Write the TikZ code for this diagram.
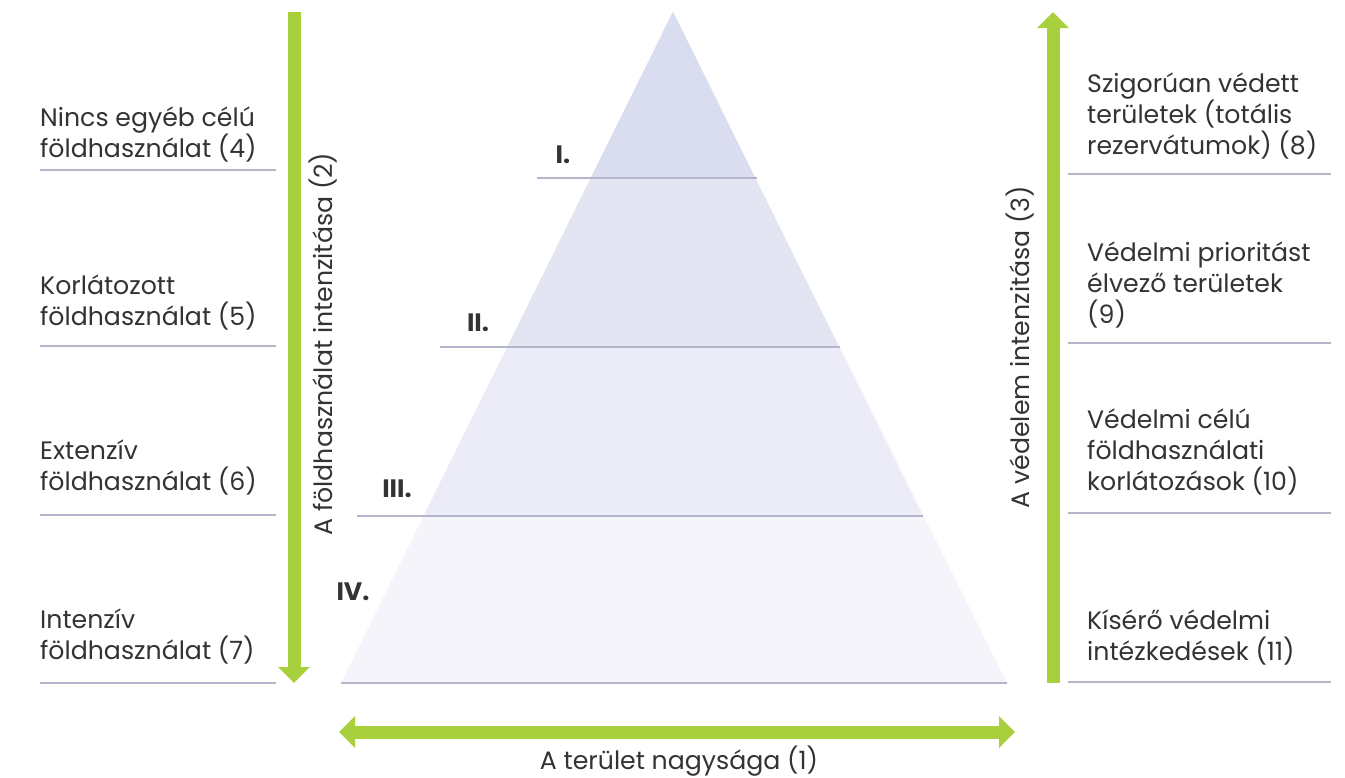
\documentclass[tikz,border=0pt]{standalone}
\usepackage{fontspec}
\setmainfont{Poppins}[Numbers=Proportional]
\usetikzlibrary{arrows.meta}
\definecolor{grn}{HTML}{A8CF3C}
\definecolor{bandA}{HTML}{DADCEF}
\definecolor{bandB}{HTML}{E3E5F3}
\definecolor{bandC}{HTML}{EBECF7}
\definecolor{bandD}{HTML}{F4F4FA}
\definecolor{rule}{HTML}{B3B5CA}
\definecolor{txt}{HTML}{333333}
\tikzset{
  lbl/.style={anchor=west,align=left,inner sep=0pt,text=txt,font=\fontsize{25.2}{31}\selectfont},
  rom/.style={anchor=base,inner sep=0pt,text=txt,font=\fontsize{25.2}{31}\selectfont\bfseries},
  axl/.style={inner sep=0pt,text=txt,font=\fontsize{25.2}{31}\selectfont},
  rl/.style={draw=rule,line width=2pt},
  garrow/.style={draw=grn,line width=13pt,-{Triangle[length=16pt,width=31pt]}},
  gdarrow/.style={draw=grn,line width=13pt,{Triangle[length=16pt,width=31pt]}-{Triangle[length=16pt,width=31pt]}},
}
\begin{document}
\begin{tikzpicture}[x=1pt,y=-1pt]
\useasboundingbox (0,0) rectangle (1345,777);
% pyramid bands
\fill[bandD] (673,12) -- (341,683) -- (1007,683) -- cycle;
\fill[bandC] (673,12) -- (423.6,516) -- (922.4,516) -- cycle;
\fill[bandB] (673,12) -- (507.2,347) -- (838.8,347) -- cycle;
\fill[bandA] (673,12) -- (590.9,178) -- (755.1,178) -- cycle;
% pyramid rules
\draw[rl] (537,178) -- (757,178);
\draw[rl] (440,347) -- (840,347);
\draw[rl] (357,516) -- (923,516);
\draw[rl] (341,683) -- (1007,683);
% roman numerals
\node[rom] (r1) at (563,163) {I.};
\node[rom] (r2) at (478,331) {II.};
\node[rom] (r3) at (397,497) {III.};
\node[rom] (r4) at (353,600) {IV.};
% left rules
\draw[rl] (40,170) -- (276,170);
\draw[rl] (40,346) -- (276,346);
\draw[rl] (40,515) -- (276,515);
\draw[rl] (40,683) -- (276,683);
% right rules
\draw[rl] (1068,174) -- (1331,174);
\draw[rl] (1068,343) -- (1331,343);
\draw[rl] (1068,513) -- (1331,513);
\draw[rl] (1068,682) -- (1331,682);
% left labels
\node[lbl] (l4) at (40,134) {Nincs egyéb célú\\földhasználat (4)};
\node[lbl] (l5) at (40,302) {Korlátozott\\földhasználat (5)};
\node[lbl] (l6) at (40,467) {Extenzív\\földhasználat (6)};
\node[lbl] (l7) at (40,636) {Intenzív\\földhasználat (7)};
% right labels
\node[lbl] (r8) at (1087,116) {Szigorúan védett\\területek (totális\\rezervátumok) (8)};
\node[lbl] (r9) at (1087,285) {Védelmi prioritást\\élvező területek\\(9)};
\node[lbl] (r10) at (1087,452) {Védelmi célú\\földhasználati\\korlátozások (10)};
\node[lbl] (r11) at (1087,637) {Kísérő védelmi\\intézkedések (11)};
% arrows
\coordinate (la1) at (294,12);
\coordinate (la2) at (294,683);
\draw[garrow] (la1) -- (la2);
\coordinate (ra1) at (1053,683);
\coordinate (ra2) at (1053,12);
\draw[garrow] (ra1) -- (ra2);
\coordinate (ba1) at (339,732);
\coordinate (ba2) at (1015,732);
\draw[gdarrow] (ba1) -- (ba2);
% axis labels
\node[axl,rotate=90] (ax2) at (323,344) {A földhasználat intenzitása (2)};
\node[axl,rotate=90] (ax3) at (1020,347) {A védelem intenzitása (3)};
\node[axl] (ax1) at (679,761) {A terület nagysága (1)};
\end{tikzpicture}
\end{document}
